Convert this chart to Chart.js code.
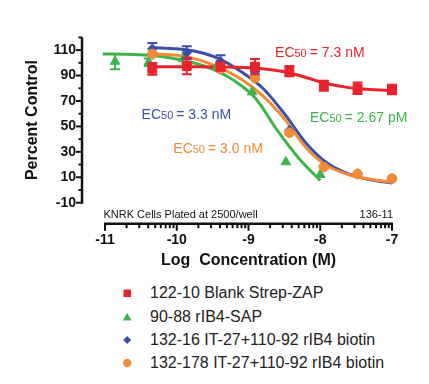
<!DOCTYPE html>
<html><head><meta charset="utf-8">
<script src="https://cdn.jsdelivr.net/npm/chart.js@4.4.1/dist/chart.umd.min.js"></script>
<style>
html,body{margin:0;padding:0;background:#fff;}
#wrap{position:relative;width:429px;height:384px;overflow:hidden;font-family:"Liberation Sans",Arial,sans-serif;}
#c{position:absolute;left:0;top:0;}
#legend{position:absolute;left:0;top:280px;width:429px;height:104px;}
.li{position:absolute;left:0;width:429px;height:20px;}
.li svg{position:absolute;left:119px;top:2px;}
.li span{position:absolute;left:150px;top:0;line-height:20px;font-size:16px;color:#222;white-space:nowrap;}
</style></head>
<body><div id="wrap"><canvas id="c" width="429" height="280"></canvas><div id="legend"></div></div>
<script>
// ---- data ----
const seriesNames = ['122-10 Blank Strep-ZAP', '90-88 rIB4-SAP', '132-16 IT-27+110-92 rIB4 biotin', '132-178 IT-27+110-92 rIB4 biotin'];
const xTicks = [-11, -10, -9, -8, -7];
const yTicks = [-10, 10, 30, 50, 70, 90, 110];

// measured points (log M)
const doseX = [-10.34, -9.86, -9.39, -8.91, -8.43, -7.95, -7.48, -7.0];
const redY = [95.3, 97.5, 97, 97, 93.5, 82, 80, 79];
const redErr = [4.6, 6.5, 3, 6, 4, 4, 4.5, 3.8];
const blueY = [111, 108, 101, 93, 47, 19, 13, 8.5];
const blueErr = [4.5, 5, 5, 0, 0, 0, 0, 0];
const orangeY = [107, 98.3, 95, 88, 45, 18, 12.5, 9];
const greenX = [-10.86, -10.39, -9.91, -9.43, -8.95, -8.48, -8.0];
const greenY = [101, 100.5, 103, 98, 77, 22, 12];
const greenErr = [6, 3, 0, 0, 0, 0, 0];

// fitted curves
const curveX = [-10.34, -10.0, -9.7, -9.4, -9.1, -8.8, -8.5, -8.2, -7.9, -7.6, -7.3, -7.0];
const redCurve = [97, 97, 97, 96.8, 96.4, 95.4, 93, 88.5, 83.5, 80.5, 79, 78.2];
const blueCurve = [112, 111, 108.5, 103, 93, 80, 60, 37, 21, 12.5, 8, 5.5];
const orangeCurve = [107, 106, 102.5, 96, 87, 74, 56, 33.5, 19, 12, 8.5, 6];
const greenCurveX = [-11.03, -10.7, -10.4, -10.1, -9.8, -9.5, -9.2, -8.9, -8.6, -8.3, -8.0];
const greenCurve = [107, 106.8, 106, 104, 100.5, 95, 86, 72, 47, 25, 7.5];

// EC50 labels
const ecLabels = ['= 7.3 nM', '= 2.67 pM', '= 3.3 nM', '= 3.0 nM'];
const ecPos = [[-8.63, 104.7], [-8.143, 53.7], [-10.49, 56.0], [-10.048, 28.7]];

const RED = '#E8232C', GREEN = '#3CB44A', BLUE = '#3C4FA8', ORANGE = '#F38A38';
const COLORS = [RED, GREEN, BLUE, ORANGE];
const FONT = '"Liberation Sans", Arial, sans-serif';

const pts = (xs, ys) => xs.map((x, i) => ({x: x, y: ys[i]}));

function curveDs(xs, ys, color, order) {
  return {type: 'line', data: pts(xs, ys), borderColor: color, borderWidth: 3, pointRadius: 0,
    showLine: true, fill: false, cubicInterpolationMode: 'monotone', order: order, clip: false};
}
function pointDs(xs, ys, color, style, r, errs, order) {
  return {type: 'scatter', data: pts(xs, ys), showLine: false, pointStyle: style, pointRadius: r,
    pointHoverRadius: r, backgroundColor: color, borderColor: color, borderWidth: 1, order: order,
    clip: false, errs: errs, errColor: color};
}

const errorBars = {
  id: 'errorBars',
  afterDatasetDraw(chart, args) {
    const ds = chart.data.datasets[args.index];
    if (!ds.errs) return;
    const {ctx, scales: {x, y}} = chart;
    ctx.save();
    ctx.strokeStyle = ds.errColor; ctx.lineWidth = 2;
    ds.data.forEach((p, i) => {
      const e = ds.errs[i];
      if (!e) return;
      const px = x.getPixelForValue(p.x);
      const t = y.getPixelForValue(p.y + e), b = y.getPixelForValue(p.y - e);
      ctx.beginPath();
      ctx.moveTo(px, t); ctx.lineTo(px, b);
      ctx.moveTo(px - 5, t); ctx.lineTo(px + 5, t);
      ctx.moveTo(px - 5, b); ctx.lineTo(px + 5, b);
      ctx.stroke();
    });
    ctx.restore();
  }
};

const axesAndText = {
  id: 'axesAndText',
  afterDraw(chart) {
    const {ctx, chartArea: ca, scales: {x, y}} = chart;
    ctx.save();
    ctx.strokeStyle = '#111'; ctx.fillStyle = '#111';
    // y axis
    const ax = ca.left - 23;
    ctx.lineWidth = 2.5;
    ctx.beginPath(); ctx.moveTo(ax, y.getPixelForValue(-10) + 1); ctx.lineTo(ax, ca.top); ctx.stroke();
    ctx.lineWidth = 2;
    for (let v = -10; v <= 120; v += 10) {
      const py = y.getPixelForValue(v);
      const major = yTicks.includes(v);
      ctx.beginPath(); ctx.moveTo(ax, py); ctx.lineTo(ax - (major ? 6 : 3.5), py); ctx.stroke();
    }
    // x axis
    const ay = ca.bottom + 21;
    ctx.lineWidth = 2.5;
    ctx.beginPath(); ctx.moveTo(x.getPixelForValue(-11) - 1, ay); ctx.lineTo(x.getPixelForValue(-7) + 1, ay); ctx.stroke();
    ctx.lineWidth = 2;
    xTicks.forEach(v => {
      const px = x.getPixelForValue(v);
      ctx.beginPath(); ctx.moveTo(px, ay); ctx.lineTo(px, ay + 7); ctx.stroke();
    });
    for (let d = -11; d < -7; d++) {
      for (let k = 2; k <= 9; k++) {
        const px = x.getPixelForValue(d + Math.log10(k));
        ctx.beginPath(); ctx.moveTo(px, ay); ctx.lineTo(px, ay + 4.5); ctx.stroke();
      }
    }
    // notes above x axis
    ctx.font = '11px ' + FONT;
    ctx.textBaseline = 'alphabetic';
    ctx.textAlign = 'left';
    ctx.fillText('KNRK Cells Plated at 2500/well', x.getPixelForValue(-11) - 1.5, ay - 6);
    ctx.textAlign = 'right';
    ctx.fillText('136-11', x.getPixelForValue(-7) + 1, ay - 6);
    // EC50 labels
    ctx.textAlign = 'left';
    ecLabels.forEach((txt, i) => {
      const px = x.getPixelForValue(ecPos[i][0]);
      const py = y.getPixelForValue(ecPos[i][1]);
      ctx.fillStyle = COLORS[i];
      ctx.font = '14px ' + FONT;
      ctx.fillText('EC', px, py);
      let w = ctx.measureText('EC').width;
      ctx.font = '11px ' + FONT;
      ctx.fillText('50', px + w, py);
      w += ctx.measureText('50').width + 3;
      ctx.font = '14px ' + FONT;
      ctx.fillText(txt, px + w, py);
    });
    ctx.restore();
  }
};

new Chart(document.getElementById('c'), {
  type: 'scatter',
  data: {
    datasets: [
      pointDs(doseX, redY, RED, 'rect', 6.3, redErr, 1),
      pointDs(greenX, greenY, GREEN, 'triangle', 5.5, greenErr, 4),
      pointDs(doseX, blueY, BLUE, 'rectRot', 4.8, blueErr, 3),
      pointDs(doseX, orangeY, ORANGE, 'circle', 4.8, null, 2),
      curveDs(greenCurveX, greenCurve, GREEN, 9),
      curveDs(curveX, blueCurve, BLUE, 8),
      curveDs(curveX, orangeCurve, ORANGE, 7),
      curveDs(curveX, redCurve, RED, 6)
    ]
  },
  options: {
    responsive: false,
    animation: false,
    events: [],
    layout: {padding: {top: 20.3, right: 37, bottom: 0, left: 0}},
    plugins: {legend: {display: false}, tooltip: {enabled: false}},
    scales: {
      x: {
        type: 'linear', position: 'bottom', min: -11, max: -7,
        afterBuildTicks: s => { s.ticks = xTicks.map(v => ({value: v})); },
        afterFit: s => { s.height = 77.3; },
        grid: {display: false, drawTicks: false, tickLength: 0},
        border: {display: false},
        ticks: {color: '#111', font: {family: FONT, size: 14, weight: 'bold'}, padding: 28.9, maxRotation: 0,
          callback: v => String(v)},
        title: {display: true, text: 'Log  Concentration (M)', color: '#111',
          font: {family: FONT, size: 16, weight: 'bold'}, padding: {top: 0, bottom: 9.4}}
      },
      y: {
        type: 'linear', position: 'left', min: -10, max: 120,
        afterBuildTicks: s => { s.ticks = yTicks.map(v => ({value: v})); },
        afterFit: s => { s.width = 105; },
        grid: {display: false, drawTicks: false, tickLength: 0},
        border: {display: false},
        ticks: {color: '#111', font: {family: FONT, size: 14, weight: 'bold'}, padding: 29,
          callback: v => String(v)},
        title: {display: true, text: 'Percent Control', color: '#111',
          font: {family: FONT, size: 16, weight: 'bold'}, padding: {top: 23.4, bottom: 0}}
      }
    }
  },
  plugins: [errorBars, axesAndText]
});

// HTML legend
const markerSvg = [
  c => `<svg width="16" height="16"><rect x="4.5" y="4.5" width="7.5" height="7.5" fill="${c}"/></svg>`,
  c => `<svg width="16" height="16"><polygon points="8.2,3.8 12.5,11.5 3.9,11.5" fill="${c}"/></svg>`,
  c => `<svg width="16" height="16"><polygon points="8.2,4 12.2,8 8.2,12 4.2,8" fill="${c}"/></svg>`,
  c => `<svg width="16" height="16"><circle cx="8.2" cy="8" r="4.2" fill="${c}"/></svg>`
];
const legendRowCenters = [13, 36.5, 59.5, 83];
const lg = document.getElementById('legend');
seriesNames.forEach((name, i) => {
  const row = document.createElement('div');
  row.className = 'li';
  row.style.top = (legendRowCenters[i] - 10) + 'px';
  row.innerHTML = markerSvg[i](COLORS[i]) + '<span></span>';
  row.querySelector('span').textContent = name;
  lg.appendChild(row);
});
</script></body></html>
